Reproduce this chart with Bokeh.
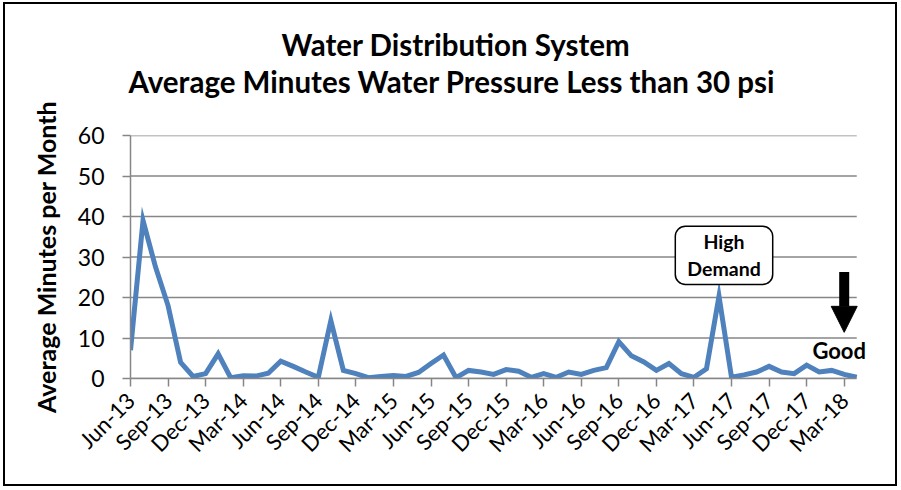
import math
from bokeh.plotting import figure
from bokeh.models import (Range1d, FixedTicker, Label, Arrow, NormalHead, Title,
                          ColumnDataSource)
from bokeh.embed import file_html
from bokeh.resources import INLINE

# ---- data -------------------------------------------------------------
months = ["Jun-13", "Jul-13", "Aug-13", "Sep-13", "Oct-13", "Nov-13", "Dec-13",
          "Jan-14", "Feb-14", "Mar-14", "Apr-14", "May-14", "Jun-14", "Jul-14",
          "Aug-14", "Sep-14", "Oct-14", "Nov-14", "Dec-14", "Jan-15", "Feb-15",
          "Mar-15", "Apr-15", "May-15", "Jun-15", "Jul-15", "Aug-15", "Sep-15",
          "Oct-15", "Nov-15", "Dec-15", "Jan-16", "Feb-16", "Mar-16", "Apr-16",
          "May-16", "Jun-16", "Jul-16", "Aug-16", "Sep-16", "Oct-16", "Nov-16",
          "Dec-16", "Jan-17", "Feb-17", "Mar-17", "Apr-17", "May-17", "Jun-17",
          "Jul-17", "Aug-17", "Sep-17", "Oct-17", "Nov-17", "Dec-17", "Jan-18",
          "Feb-18", "Mar-18", "Apr-18"]
minutes = [7.0, 39.0, 27.5, 18.0, 4.0, 0.5, 1.2,
           6.1, 0.2, 0.7, 0.6, 1.3, 4.3, 3.0,
           1.6, 0.3, 14.3, 2.0, 1.2, 0.2, 0.5,
           0.75, 0.5, 1.5, 3.7, 5.8, 0.2, 2.0,
           1.6, 1.0, 2.2, 1.8, 0.3, 1.2, 0.3,
           1.6, 1.0, 2.0, 2.7, 9.1, 5.6, 4.1,
           2.0, 3.7, 1.2, 0.3, 2.4, 20.3, 0.3,
           0.9, 1.6, 3.0, 1.6, 1.2, 3.3, 1.6,
           2.0, 1.0, 0.3]
tick_labels = months[::3]
y_ticks = [0, 10, 20, 30, 40, 50, 60]

title_1 = "Water Distribution System"
title_2 = "Average Minutes Water Pressure Less than 30 psi"
y_title = "Average Minutes per Month"
note_text = "High\nDemand"
good_text = "Good"

# ---- figure -----------------------------------------------------------
idx = list(range(len(months)))
last = idx[-1]
src = ColumnDataSource(dict(x=idx, y=minutes))
grid_src = ColumnDataSource(dict(x0=[idx[0]] * len(y_ticks),
                                 x1=[last] * len(y_ticks),
                                 y=y_ticks))

FONT = "Lato"
p = figure(width=894, height=484, output_backend="svg", toolbar_location=None,
           x_range=Range1d(0, last + 1.1), y_range=Range1d(0, 60),
           min_border_left=125, min_border_right=29, min_border_bottom=110,
           min_border_top=131)
p.styles = {"border": "2px solid black", "margin-left": "3px",
            "margin-top": "2px"}
p.outline_line_color = None
p.background_fill_color = "white"
p.border_fill_color = "white"

grid_col = "#868686"
p.segment(x0="x0", y0="y", x1="x1", y1="y", source=grid_src,
          line_color=grid_col, line_width=1.5, level="underlay")
p.line("x", "y", source=src, line_color="#4F81BD", line_width=5,
       line_join="miter")

# titles: spacer closest to plot, then line 2, then line 1
p.add_layout(Title(text=" ", text_font_size="1px", standoff=34), "above")
p.add_layout(Title(text=title_2, align="left", offset=-2, text_font=FONT,
                   text_font_size="29.5px", text_font_style="bold",
                   text_color="black", standoff=0), "above")
p.add_layout(Title(text=title_1, align="left", offset=151, text_font=FONT,
                   text_font_size="29.5px", text_font_style="bold",
                   text_color="black", standoff=0), "above")

# axes
xa = p.xaxis[0]
xa.bounds = (idx[0], last)
xa.ticker = FixedTicker(ticks=idx[::3])
xa.major_label_overrides = {i: lab for i, lab in zip(idx[::3], tick_labels)}
xa.major_label_orientation = math.pi / 4
xa.major_label_text_font = FONT
xa.major_label_text_font_size = "22px"
xa.major_label_text_color = "black"
xa.major_label_standoff = 10
xa.axis_line_color = grid_col
xa.axis_line_width = 1.5
xa.major_tick_line_color = grid_col
xa.major_tick_line_width = 1.5
xa.major_tick_out = 8
xa.major_tick_in = 0
xa.minor_tick_line_color = None

ya = p.yaxis[0]
ya.ticker = FixedTicker(ticks=y_ticks)
ya.major_label_text_font = FONT
ya.major_label_text_font_size = "23px"
ya.major_label_text_color = "black"
ya.major_label_standoff = 18
ya.axis_line_color = grid_col
ya.axis_line_width = 1.5
ya.major_tick_line_color = grid_col
ya.major_tick_line_width = 1.5
ya.major_tick_out = 8
ya.major_tick_in = 0
ya.minor_tick_line_color = None
ya.axis_label = y_title
ya.axis_label_text_font = FONT
ya.axis_label_text_font_size = "25px"
ya.axis_label_text_font_style = "bold"
ya.axis_label_text_color = "black"
ya.axis_label_standoff = 14

p.xgrid.grid_line_color = None
p.ygrid.grid_line_color = None

# annotations
p.add_layout(Label(x=47.4, y=30.4, text=note_text, text_align="center",
                   text_baseline="middle", text_font=FONT,
                   text_font_size="19.5px", text_font_style="bold",
                   text_color="black", text_line_height=1.18,
                   background_fill_color="white", border_line_color="black",
                   border_line_width=1.5, border_radius=10, padding=(12, 4)))
p.add_layout(Label(x=56.6, y=6.9, text=good_text, text_align="center",
                   text_baseline="middle", text_font=FONT,
                   text_font_size="22px", text_font_style="bold",
                   text_color="black"))
p.add_layout(Arrow(end=NormalHead(size=26, fill_color="black",
                                  line_color="black"),
                   x_start=57.0, y_start=26.3, x_end=57.0, y_end=11.4,
                   line_width=10, line_color="black"))

open("out.html", "w").write(file_html(p, INLINE))
